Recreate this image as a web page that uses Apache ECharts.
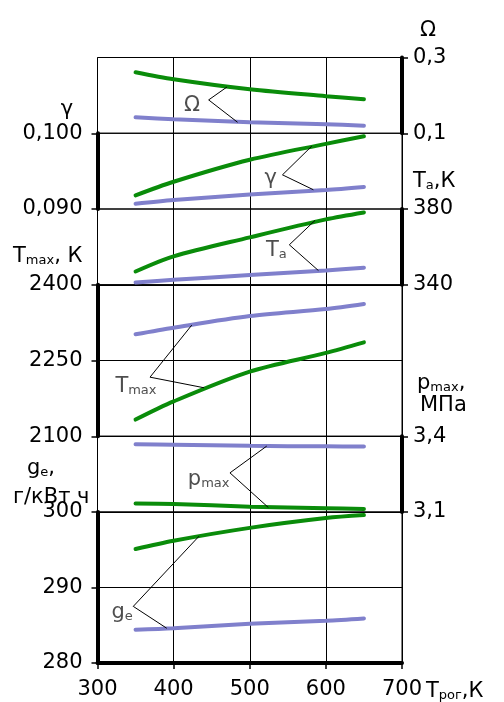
<!DOCTYPE html>
<html><head><meta charset="utf-8">
<script src="https://cdn.jsdelivr.net/npm/echarts@6/dist/echarts.min.js"></script>
<style>html,body{margin:0;padding:0;background:#fff}#c{width:504px;height:702px}</style>
</head><body><div id="c"></div>
<script>
// ---- data ----
const xValues = [350, 400, 500, 600, 650];
const xTicks = [300, 400, 500, 600, 700];

const qGreen = [0.261, 0.2425, 0.216, 0.198, 0.190];
const qBlue = [0.142, 0.137, 0.129, 0.124, 0.120];
const gammaGreen = [0.0918, 0.0936, 0.0965, 0.0986, 0.0996];
const gammaBlue = [0.0907, 0.0912, 0.0919, 0.0925, 0.0929];
const taGreen = [347.0, 355.0, 365.0, 374.5, 378.2];
const taBlue = [341.2, 342.6, 345.1, 347.5, 349.0];
const tmaxBlue = [2302, 2315, 2338, 2352, 2362];
const tmaxGreen = [2133, 2169, 2228, 2265, 2286];
const pmaxBlue = [3.368, 3.366, 3.362, 3.360, 3.359];
const pmaxGreen = [3.134, 3.132, 3.121, 3.115, 3.112];
const geGreen = [295.1, 296.2, 297.9, 299.2, 299.6];
const geBlue = [284.4, 284.6, 285.2, 285.6, 285.9];

const qTicks = [0.1, 0.3];
const gammaTicks = [0.09, 0.1];
const taTicks = [340, 380];
const tmaxTicks = [2100, 2250, 2400];
const pmaxTicks = [3.1, 3.4];
const geTicks = [280, 290, 300];

// annotation leaders (data coordinates of each panel)
const notes = [
  {panel: 0, text: '{m|Ω}', vertex: [446, 0.188], ends: [[470, 0.222], [484, 0.129]], dist: 8, offset: [0, 4]},
  {panel: 1, text: '{m|γ}', vertex: [543, 0.09451], ends: [[581.5, 0.0983], [583.6, 0.09254]], dist: 5, offset: [0, 2]},
  {panel: 2, text: '{m|T}{s|a}', vertex: [552, 361.1], ends: [[585.8, 374.0], [590.2, 347.5]], dist: 2, offset: [0, 4]},
  {panel: 3, text: '{m|T}{s|max}', vertex: [369, 2217], ends: [[423.8, 2320], [440, 2196]], dist: 0, offset: [7, 8]},
  {panel: 4, text: '{m|p}{s|max}', vertex: [474, 3.255], ends: [[522.3, 3.361], [524.4, 3.118]], dist: 0, offset: [0, 5]},
  {panel: 5, text: '{m|g}{s|e}', vertex: [347, 287.5], ends: [[433.4, 296.8], [391, 284.6]], dist: 0, offset: [0, 5]}
];

// ---- layout / style ----
const FONT = 'DejaVu Sans';
const GREEN = '#0a8c0a', BLUE = '#8080cc';
const L = 97.5, W = 304.5, TOP0 = 57.5, BAND = 75.75;

const panels = [
  {rows: [0, 1], pos: 'right', min: 0.1, max: 0.3, ticks: qTicks, dec: 1, green: qGreen, blue: qBlue},
  {rows: [1, 2], pos: 'left', min: 0.09, max: 0.1, ticks: gammaTicks, dec: 3, green: gammaGreen, blue: gammaBlue},
  {rows: [2, 3], pos: 'right', min: 340, max: 380, ticks: taTicks, dec: 0, green: taGreen, blue: taBlue},
  {rows: [3, 5], pos: 'left', min: 2100, max: 2400, interval: 150, split: true, ticks: tmaxTicks, dec: 0, green: tmaxGreen, blue: tmaxBlue},
  {rows: [5, 6], pos: 'right', min: 3.1, max: 3.4, ticks: pmaxTicks, dec: 1, green: pmaxGreen, blue: pmaxBlue},
  {rows: [6, 8], pos: 'left', min: 280, max: 300, interval: 10, split: true, ticks: geTicks, dec: 0, green: geGreen, blue: geBlue}
];

function rich(color) {
  return {
    m: {fontSize: 21, fontFamily: FONT, color: color, fill: color, lineHeight: 24, verticalAlign: 'bottom'},
    s: {fontSize: 13, fontFamily: FONT, color: color, fill: color, lineHeight: 9, verticalAlign: 'bottom'}
  };
}
const pair = arr => xValues.map((x, i) => [x, arr[i]]);

const grid = [], xAxis = [], yAxis = [], series = [];
panels.forEach((p, i) => {
  const last = i === panels.length - 1;
  grid.push({left: L, width: W, top: TOP0 + p.rows[0] * BAND, height: (p.rows[1] - p.rows[0]) * BAND,
    show: true, borderColor: '#000', borderWidth: 1, backgroundColor: 'transparent', containLabel: false});
  xAxis.push({
    gridIndex: i, type: 'value', min: xTicks[0], max: xTicks[xTicks.length - 1], interval: 100,
    axisLine: {show: last, onZero: false, lineStyle: {color: '#000', width: 4}},
    axisTick: {show: last, length: 6, lineStyle: {color: '#000', width: 1.5}},
    axisLabel: {show: last, margin: 16, color: '#000', fontSize: 21, fontFamily: FONT},
    splitLine: {show: true, lineStyle: {color: '#000', width: 1}},
    name: last ? '{m|T}{s|рог}{m|,К}' : '',
    nameLocation: 'end', nameGap: 24,
    nameTextStyle: {rich: rich('#000'), align: 'left', verticalAlign: 'top', padding: [15, 0, 0, 0]}
  });
  const yA = {
    gridIndex: i, type: 'value', position: p.pos, min: p.min, max: p.max,
    axisLine: {show: true, onZero: false, lineStyle: {color: '#000', width: 4}},
    axisTick: {show: true, customValues: p.ticks, length: 6, lineStyle: {color: '#000', width: 1.5}},
    axisLabel: {show: true, customValues: p.ticks, margin: p.pos === 'left' ? 15 : 11, color: '#000', fontSize: 21, fontFamily: FONT,
      formatter: v => Number(v).toFixed(p.dec).replace('.', ',')},
    splitLine: {show: !!p.split, lineStyle: {color: '#000', width: 1}}
  };
  if (p.interval) yA.interval = p.interval;
  yAxis.push(yA);
  series.push({type: 'line', xAxisIndex: i, yAxisIndex: i, data: pair(p.blue), smooth: 0.3, symbol: 'none',
    lineStyle: {color: BLUE, width: 4, cap: 'round'}, z: 3});
  series.push({type: 'line', xAxisIndex: i, yAxisIndex: i, data: pair(p.green), smooth: 0.3, symbol: 'none',
    lineStyle: {color: GREEN, width: 4, cap: 'round'}, z: 3});
});

notes.forEach(n => {
  series.push({type: 'line', xAxisIndex: n.panel, yAxisIndex: n.panel, data: [n.ends[0], n.vertex, n.ends[1]],
    symbol: 'none', lineStyle: {color: '#000', width: 1}, z: 4, smooth: false});
  series.push({type: 'scatter', xAxisIndex: n.panel, yAxisIndex: n.panel, data: [n.vertex], symbolSize: 1,
    itemStyle: {color: 'rgba(0,0,0,0)'}, z: 5,
    label: {show: true, position: 'left', distance: n.dist, offset: n.offset, formatter: n.text, rich: rich('#222')}});
});

function gtext(x, y, text, align) {
  return {type: 'text', x: x, y: y, silent: true,
    style: {text: text, rich: rich('#000'), fontSize: 21, fontFamily: FONT, fill: '#000', align: align || 'left', verticalAlign: 'middle'}};
}

const option = {
  animation: false,
  backgroundColor: '#fff',
  grid, xAxis, yAxis, series,
  graphic: [
    gtext(67, 108, '{m|γ}', 'center'),
    gtext(13, 255, '{m|T}{s|max}{m|, К}'),
    gtext(27, 467, '{m|g}{s|e}{m|,}'),
    gtext(13, 496, '{m|г/кВт ч}'),
    gtext(428, 29, '{m|Ω}', 'center'),
    gtext(413, 180, '{m|T}{s|a}{m|,К}'),
    gtext(417, 382, '{m|p}{s|max}{m|,}'),
    gtext(420, 404, '{m|МПа}')
  ]
};
const chart = echarts.init(document.getElementById('c'), null, {renderer: 'canvas'});
chart.setOption(option);
</script></body></html>
